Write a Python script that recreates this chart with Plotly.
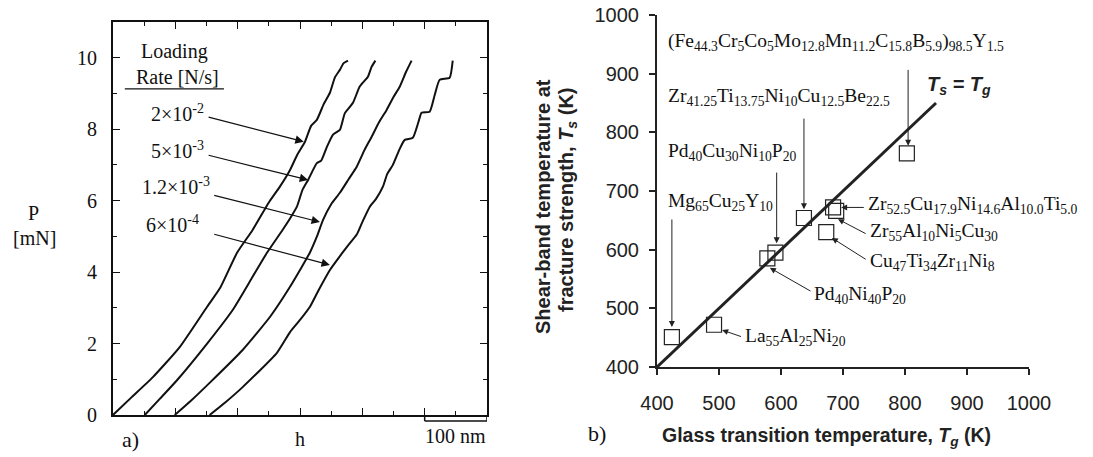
import plotly.graph_objects as go

W, H = 1093, 457

# ---------------- data: panel a) loading curves (h in nm, P in mN) ----------------
rate_labels = ["2×10<sup>-2</sup>", "5×10<sup>-3</sup>", "1.2×10<sup>-3</sup>", "6×10<sup>-4</sup>"]

curve1_h = [0, 30, 64, 107, 151, 172, 199, 224, 250, 268, 284, 296, 308, 318, 327, 338, 348, 356, 364, 370, 377]
curve1_P = [0, 0.5, 1.06, 1.9, 3.03, 3.56, 4.54, 5.18, 5.95, 6.4, 6.86, 7.3, 7.65, 8.1, 8.26, 8.7, 9.02, 9.45, 9.66, 9.85, 9.92]

curve2_h = [51, 75, 103, 151, 192, 224, 247, 272, 284, 295, 304, 313, 327, 334, 343, 353, 364, 372, 385, 396, 409, 415, 421]
curve2_P = [0, 0.45, 0.98, 2.0, 2.94, 3.87, 4.54, 5.18, 5.5, 5.83, 6.3, 6.58, 7.05, 7.12, 7.5, 7.85, 7.98, 8.45, 8.74, 9.2, 9.47, 9.75, 9.92]

curve3_h = [99, 125, 155, 208, 252, 284, 300, 316, 327, 337, 350, 364, 378, 391, 403, 415, 427, 439, 450, 460, 470, 479]
curve3_P = [0, 0.4, 0.9, 1.82, 2.75, 3.59, 4.06, 4.55, 4.99, 5.46, 5.9, 6.22, 6.6, 6.95, 7.4, 7.79, 8.2, 8.54, 8.9, 9.19, 9.6, 9.92]

curve4_h = [155, 180, 208, 263, 284, 300, 316, 330, 348, 362, 375, 391, 400, 412, 422, 433, 440, 449, 460, 468, 481, 490, 495, 508, 516, 524, 540, 545]
curve4_P = [0, 0.35, 0.78, 1.74, 2.32, 2.66, 3.03, 3.5, 4.06, 4.4, 4.7, 5.05, 5.4, 5.83, 6.05, 6.39, 6.75, 7.0, 7.45, 7.7, 7.76, 8.2, 8.46, 8.49, 8.95, 9.38, 9.44, 9.92]

# ---------------- data: panel b) Ts vs Tg ----------------
alloy_names = [
    "Mg<sub>65</sub>Cu<sub>25</sub>Y<sub>10</sub>",
    "La<sub>55</sub>Al<sub>25</sub>Ni<sub>20</sub>",
    "Pd<sub>40</sub>Ni<sub>40</sub>P<sub>20</sub>",
    "Pd<sub>40</sub>Cu<sub>30</sub>Ni<sub>10</sub>P<sub>20</sub>",
    "Zr<sub>41.25</sub>Ti<sub>13.75</sub>Ni<sub>10</sub>Cu<sub>12.5</sub>Be<sub>22.5</sub>",
    "Zr<sub>52.5</sub>Cu<sub>17.9</sub>Ni<sub>14.6</sub>Al<sub>10.0</sub>Ti<sub>5.0</sub>",
    "Zr<sub>55</sub>Al<sub>10</sub>Ni<sub>5</sub>Cu<sub>30</sub>",
    "Cu<sub>47</sub>Ti<sub>34</sub>Zr<sub>11</sub>Ni<sub>8</sub>",
    "(Fe<sub>44.3</sub>Cr<sub>5</sub>Co<sub>5</sub>Mo<sub>12.8</sub>Mn<sub>11.2</sub>C<sub>15.8</sub>B<sub>5.9</sub>)<sub>98.5</sub>Y<sub>1.5</sub>",
]
Tg_values = [424, 492, 578, 591, 637, 684, 689, 673, 803]
Ts_values = [451, 472, 585, 595, 654, 672, 666, 630, 764]
equal_line_T = [400, 850]
tick_vals_b = [400, 500, 600, 700, 800, 900, 1000]

SERIF = "Liberation Serif, Times New Roman, serif"
SANS = "Liberation Sans, Arial, sans-serif"
INK = "#111"

def px_x(x):
    return x / W

def px_y(y):
    return 1 - y / H

fig = go.Figure()

for hh, pp in [(curve1_h, curve1_P), (curve2_h, curve2_P), (curve3_h, curve3_P), (curve4_h, curve4_P)]:
    fig.add_trace(go.Scatter(x=hh, y=pp, mode="lines",
                             line=dict(color=INK, width=2, shape="spline", smoothing=0.5),
                             xaxis="x", yaxis="y", showlegend=False, hoverinfo="skip"))

fig.add_trace(go.Scatter(x=equal_line_T, y=equal_line_T, mode="lines",
                         line=dict(color="#222", width=3), xaxis="x2", yaxis="y2",
                         showlegend=False, hoverinfo="skip"))
fig.add_trace(go.Scatter(x=Tg_values, y=Ts_values, mode="markers",
                         marker=dict(symbol="square-open", size=15, color="#222", line=dict(width=1.2)),
                         xaxis="x2", yaxis="y2", showlegend=False, hoverinfo="skip"))

ann = []

def text_ann(x, y, text, font, xref="paper", yref="paper", xanchor="center", yanchor="middle", **kw):
    d = dict(x=x, y=y, xref=xref, yref=yref, text=text, showarrow=False, font=font,
             xanchor=xanchor, yanchor=yanchor)
    d.update(kw)
    ann.append(d)

f20 = dict(family=SERIF, size=20, color=INK)

# panel a) labels
text_ann(98, 10.17, "Loading", f20, xref="x", yref="y")
text_ann(103, 9.47, "Rate [N/s]", f20, xref="x", yref="y")
rate_pos = [(103, 8.45), (103, 7.42), (101, 6.40), (95, 5.36)]
rate_tips = [(306, 7.65), (313, 6.58), (332, 5.40), (348, 4.20)]
rate_tails = [(151, 8.35), (151, 7.28), (160, 6.16), (160, 5.07)]
for lab, (tx, ty) in zip(rate_labels, rate_pos):
    text_ann(tx, ty, lab, f20, xref="x", yref="y")
for (hx, hy), (ax_, ay_) in zip(rate_tips, rate_tails):
    ann.append(dict(x=hx, y=hy, ax=ax_, ay=ay_, xref="x", yref="y", axref="x", ayref="y",
                    text="", showarrow=True, arrowhead=2, arrowsize=1.4, arrowwidth=1.2,
                    arrowcolor=INK, standoff=0, startstandoff=0))

text_ann(px_x(33), px_y(213), "P", f20)
text_ann(px_x(34), px_y(238), "[mN]", f20)
text_ann(px_x(130), px_y(439), "a)", dict(family=SERIF, size=22, color=INK))
text_ann(300, px_y(439), "h", f20, xref="x")
text_ann(550, px_y(436), "100 nm", f20, xref="x")

# panel b) labels
lab_font = dict(family=SERIF, size=19.5, color=INK)
label_pos = [
    (414, 681), (539, 451), (650, 523), (414, 766), (414, 860),
    (737, 676), (740, 630), (740, 579), (414, 954),
]
for name, (lx, ly) in zip(alloy_names, label_pos):
    text_ann(lx, ly, name, lab_font, xref="x2", yref="y2", xanchor="left")

arrows_b = [
    ((424, 468), (424, 654)),
    ((505, 463), (538, 451)),
    ((582, 569), (650, 528)),
    ((593, 611), (593, 734)),
    ((637, 669), (637, 826)),
    ((697, 672), (736, 672)),
    ((692, 652), (739, 626)),
    ((682, 620), (739, 582)),
    ((805, 777), (805, 909)),
]
for (hx, hy), (tx, ty) in arrows_b:
    ann.append(dict(x=hx, y=hy, ax=tx, ay=ty, xref="x2", yref="y2", axref="x2", ayref="y2",
                    text="", showarrow=True, arrowhead=2, arrowsize=1.2, arrowwidth=1,
                    arrowcolor="#222", standoff=0, startstandoff=0))

text_ann(887, 880, "<b><i>T<sub>s</sub> = T<sub>g</sub></i></b>",
         dict(family=SANS, size=20, color="#222"), xref="x2", yref="y2")
text_ann(px_x(597), px_y(433), "b)", dict(family=SERIF, size=22, color=INK))
text_ann(px_x(826), px_y(436), "<b>Glass transition temperature, <i>T<sub>g</sub></i> (K)</b>",
         dict(family=SANS, size=19.5, color="#222"))
text_ann(px_x(543), px_y(207), "<b>Shear-band temperature at</b>",
         dict(family=SANS, size=20, color="#222"), textangle=-90)
text_ann(px_x(567), px_y(200), "<b>fracture strength, <i>T<sub>s</sub></i> (K)</b>",
         dict(family=SANS, size=20, color="#222"), textangle=-90)

shapes = [
    dict(type="line", xref="x", yref="y", x0=19, x1=178, y0=9.13, y1=9.13,
         line=dict(color=INK, width=1.2)),
    dict(type="line", xref="x", yref="paper", x0=500, x1=600, y0=px_y(421), y1=px_y(421),
         line=dict(color=INK, width=1.5)),
    dict(type="line", xref="x", yref="paper", x0=500, x1=500, y0=px_y(415), y1=px_y(421),
         line=dict(color=INK, width=1.5)),
    dict(type="line", xref="x", yref="paper", x0=600, x1=600, y0=px_y(415), y1=px_y(421),
         line=dict(color=INK, width=1.5)),
]

fig.update_layout(
    width=W, height=H, margin=dict(l=0, r=0, t=0, b=0, autoexpand=False),
    paper_bgcolor="white", plot_bgcolor="white", showlegend=False,
    annotations=ann, shapes=shapes,
    xaxis=dict(domain=[px_x(113), px_x(487)], range=[0, 600], anchor="y",
               showline=True, linecolor=INK, linewidth=2, mirror="ticks",
               ticks="inside", tickvals=[0, 100, 200, 300, 400, 500, 600], ticklen=7,
               tickcolor=INK, tickwidth=1.2, showticklabels=False,
               minor=dict(ticks="inside", tickvals=[50, 150, 250, 350, 450, 550], ticklen=4,
                          tickcolor=INK, showgrid=False),
               showgrid=False, zeroline=False, fixedrange=True, automargin=False),
    yaxis=dict(domain=[px_y(415), px_y(22)], range=[0, 11], anchor="x",
               showline=True, linecolor=INK, linewidth=2, mirror="ticks",
               ticks="inside", tickvals=[0, 2, 4, 6, 8, 10], ticklen=7,
               tickcolor=INK, tickwidth=1.2,
               minor=dict(ticks="inside", tickvals=[1, 3, 5, 7, 9], ticklen=4,
                          tickcolor=INK, showgrid=False),
               tickfont=dict(family=SERIF, size=20, color=INK), ticklabelstandoff=10,
               showgrid=False, zeroline=False, fixedrange=True, automargin=False),
    xaxis2=dict(domain=[px_x(657), px_x(1029)], range=[400, 1000], anchor="y2",
                showline=True, linecolor="#222", linewidth=2, mirror=False,
                ticks="outside", tickvals=tick_vals_b, ticklen=6, tickcolor="#222", tickwidth=1.5,
                tickfont=dict(family=SANS, size=20, color="#222"), ticklabelstandoff=11,
                showgrid=False, zeroline=False, fixedrange=True, automargin=False),
    yaxis2=dict(domain=[px_y(367), px_y(15)], range=[400, 1000], anchor="x2",
                showline=True, linecolor="#222", linewidth=2, mirror=False,
                ticks="outside", tickvals=tick_vals_b, ticklen=6, tickcolor="#222", tickwidth=1.5,
                tickfont=dict(family=SANS, size=20, color="#222"), ticklabelstandoff=6,
                showgrid=False, zeroline=False, fixedrange=True, automargin=False),
)

fig.write_html(
    "out.html",
    config={"displayModeBar": False},
    post_script="document.body.style.margin='0';document.body.style.padding='0';"
                "document.body.style.overflow='hidden';",
)
